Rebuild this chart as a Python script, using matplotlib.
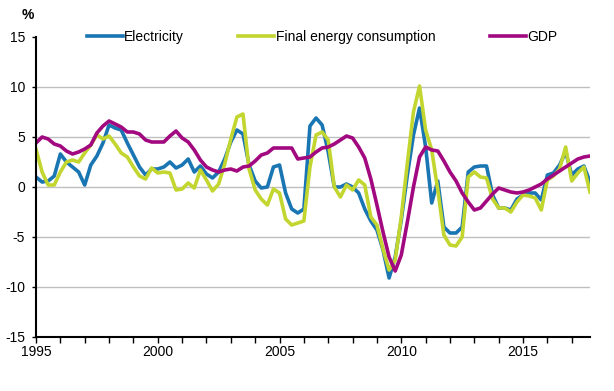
import numpy as np
import matplotlib
matplotlib.use("Agg")
import matplotlib.pyplot as plt

plt.rcParams['font.family'] = ['Liberation Sans', 'DejaVu Sans']
plt.rcParams['axes.unicode_minus'] = False

# quarterly year-on-year change, %, 1995Q1 .. 2017Q4
start_year = 1995
electricity = [
    1.0, 0.5, 0.6, 1.1, 3.3, 2.5, 2.0, 1.5, 0.2, 2.2, 3.1, 4.4,
    6.2, 5.9, 5.7, 4.4, 3.2, 2.0, 1.2, 1.8, 1.8, 2.0, 2.5, 1.9,
    2.2, 2.8, 1.5, 2.1, 1.3, 0.9, 1.5, 2.8, 4.5, 5.7, 5.3, 2.2,
    0.6, -0.1, 0.0, 2.0, 2.2, -0.6, -2.2, -2.6, -2.2, 6.1, 6.9, 6.2,
    3.5, 0.0, 0.0, 0.3, 0.0, -0.6, -2.2, -3.4, -4.3, -6.3, -9.1, -7.0,
    -3.3, 1.2, 5.2, 7.9, 4.0, -1.6, 0.6, -4.0, -4.6, -4.6, -4.0, 1.5,
    2.0, 2.1, 2.1, -0.8, -2.1, -2.1, -2.3, -1.2, -0.8, -0.6, -0.6, -1.3,
    1.2, 1.4, 2.2, 3.5, 1.2, 1.8, 2.1, 0.5,
]
final_energy = [
    3.8, 1.5, 0.2, 0.2, 1.5, 2.5, 2.7, 2.5, 3.4, 4.2, 5.2, 4.8,
    5.1, 4.3, 3.4, 3.0, 2.0, 1.1, 0.8, 1.9, 1.4, 1.5, 1.4, -0.3,
    -0.2, 0.4, -0.1, 1.7, 0.7, -0.4, 0.3, 2.3, 4.8, 7.0, 7.3, 1.8,
    -0.3, -1.2, -1.8, -0.2, -0.6, -3.2, -3.8, -3.6, -3.4, 2.0, 5.2, 5.5,
    4.7, 0.0, -1.0, 0.2, -0.3, 0.7, 0.2, -3.0, -3.8, -6.2, -8.3, -7.3,
    -3.0, 2.4, 7.5, 10.1, 5.7, 3.7, -0.3, -4.8, -5.8, -5.9, -5.0, 1.0,
    1.5, 1.0, 0.9, -1.2, -2.1, -2.1, -2.5, -1.5, -0.8, -0.9, -1.1, -2.3,
    0.7, 1.1, 1.8, 4.0, 0.6, 1.4, 2.0, -0.5,
]
gdp = [
    4.4, 5.0, 4.8, 4.3, 4.1, 3.6, 3.3, 3.5, 3.8, 4.2, 5.4, 6.1,
    6.6, 6.3, 6.0, 5.5, 5.5, 5.3, 4.7, 4.5, 4.5, 4.5, 5.1, 5.6,
    4.9, 4.5, 3.7, 2.7, 2.0, 1.7, 1.5, 1.7, 1.8, 1.6, 2.0, 2.1,
    2.6, 3.2, 3.4, 3.9, 3.9, 3.9, 3.9, 2.8, 2.9, 3.0, 3.5, 3.9,
    4.0, 4.3, 4.7, 5.1, 4.9, 4.0, 2.9, 0.8, -1.8, -4.5, -7.0, -8.4,
    -6.8, -3.5, 0.0, 3.0, 4.0, 3.7, 3.6, 2.6, 1.5, 0.6, -0.6, -1.5,
    -2.3, -2.1, -1.4, -0.7, -0.1, -0.3, -0.5, -0.6, -0.5, -0.3, 0.0, 0.3,
    0.8, 1.2, 1.6, 2.0, 2.4, 2.8, 3.0, 3.1,
]
series_names = ['Electricity', 'Final energy consumption', 'GDP']
colors = ['#1a75b3', '#c3d630', '#a2087f']

quarters = start_year + np.arange(len(gdp)) / 4

fig = plt.figure(figsize=(6.14, 3.91), dpi=100)
ax = fig.add_axes([36 / 614, 1 - 337 / 391, 554 / 614, 300 / 391])

for vals, name, col in zip([electricity, final_energy, gdp], series_names, colors):
    ax.plot(quarters, vals, color=col, lw=2.6, label=name, solid_joinstyle='round')

ax.set_xlim(start_year, quarters[-1])
ax.set_ylim(-15, 15)
ax.set_yticks(range(-15, 16, 5))
years = list(range(1995, 2018))
ax.set_xticks(years)
ax.set_xticklabels([str(y) if y % 5 == 0 else '' for y in years])

# grey gridlines (none at the top, the legend sits there)
for yv in range(-10, 11, 5):
    ax.axhline(yv, color='#bfbfbf', lw=1, zorder=0)

for side in ['top', 'right']:
    ax.spines[side].set_visible(False)
for side in ['left', 'bottom']:
    ax.spines[side].set_linewidth(1.5)
    ax.spines[side].set_color('black')

ax.tick_params(axis='x', direction='out', length=4, width=1, labelsize=10, pad=2)
ax.tick_params(axis='y', direction='out', length=3, width=1, labelsize=10, pad=5)

fig.text(28 / 614, 1 - 15 / 391, '%', fontsize=10, fontweight='bold', ha='center', va='center')

ax.legend(loc='center', bbox_to_anchor=(322 / 614, 1 - 37 / 391), bbox_transform=fig.transFigure,
          ncol=3, frameon=False, fontsize=10, handlelength=2.6, handletextpad=0.1,
          columnspacing=3.9, borderpad=0)

fig.savefig('out.png', dpi=100)
